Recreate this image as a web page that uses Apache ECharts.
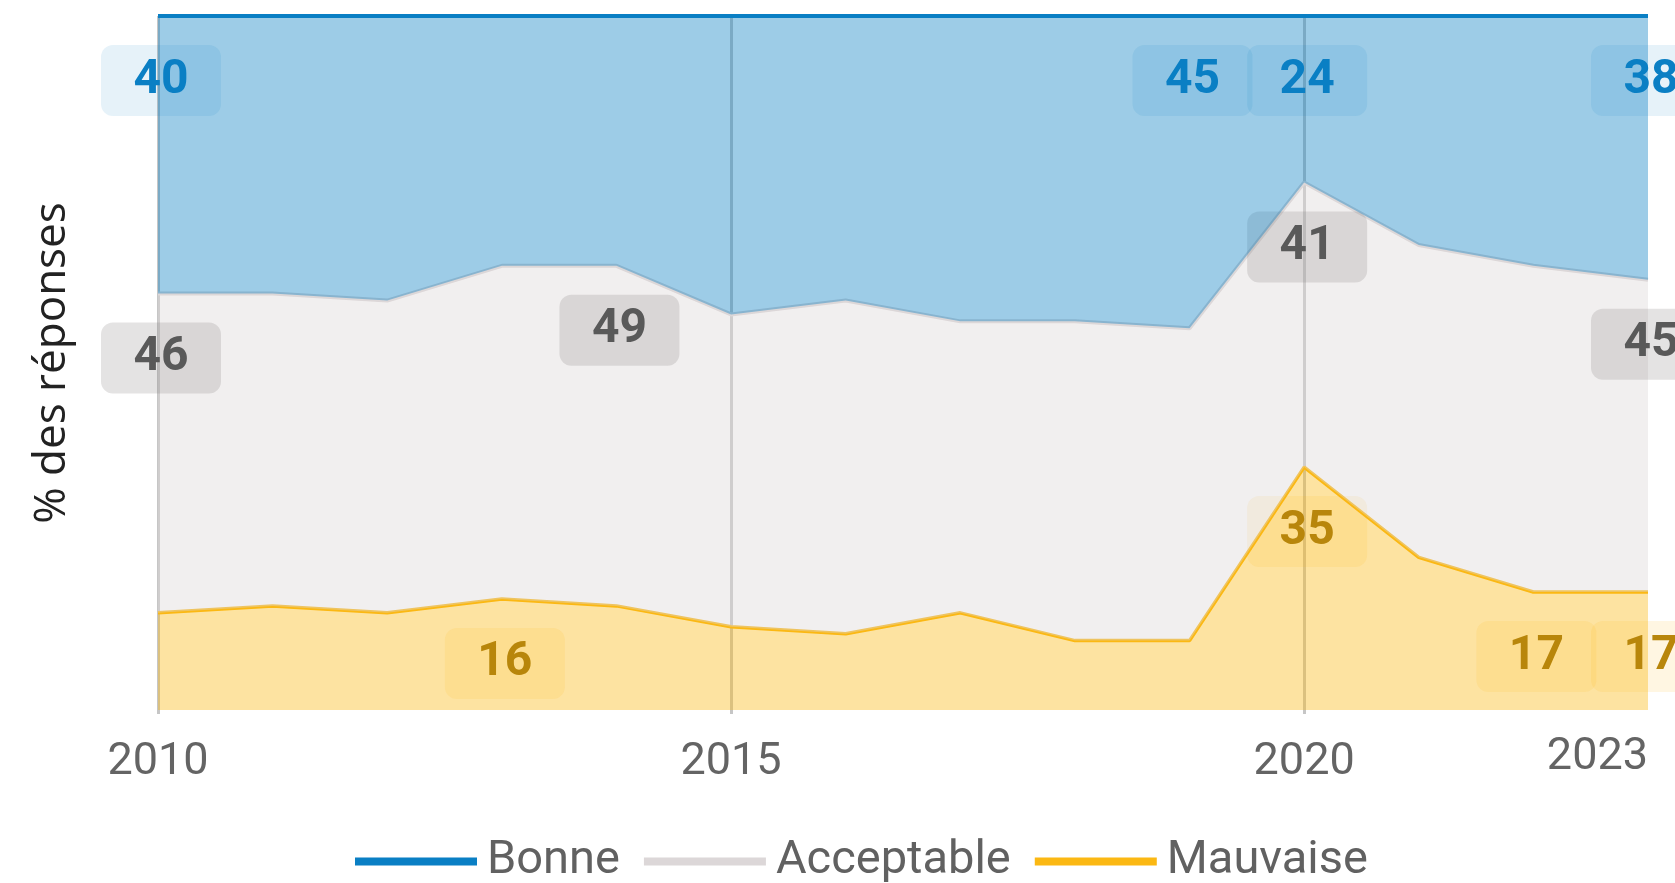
<!DOCTYPE html>
<html>
<head>
<meta charset="utf-8">
<script src="https://cdn.jsdelivr.net/npm/echarts@6/dist/echarts.min.js"></script>
<style>
  html, body { margin: 0; padding: 0; background: #fff; }
  #chart { width: 1675px; height: 883px; }
</style>
</head>
<body>
<div id="chart"></div>
<script>
const years = ['2010', '2011', '2012', '2013', '2014', '2015', '2016', '2017', '2018', '2019', '2020', '2021', '2022', '2023']
const bonne = [40, 40, 41, 36, 36, 43, 41, 44, 44, 45, 24, 33, 36, 38]
const acceptable = [46, 45, 45, 48, 49, 45, 48, 42, 46, 45, 41, 45, 47, 45]
const mauvaise = [14, 15, 14, 16, 15, 12, 11, 14, 10, 10, 35, 22, 17, 17]

// points that carry a value label
const bonneLabelled = [0, 9, 10, 13]
const acceptableLabelled = [0, 4, 10, 13]
const mauvaiseLabelled = [3, 10, 12, 13]

const tickIdx = [0, 5, 10, 13]
const gridIdx = [0, 5, 10]

const font = 'Roboto, "Noto Sans", sans-serif'

function labelled(values, idx) {
  return values.map((v, i) => idx.includes(i) ? { value: v, label: { show: true } } : v)
}

function makeSeries(name, values, idx, color, lineWidth, textColor, boxColor, z) {
  return {
    name: name,
    type: 'line',
    stack: 'total',
    z: z,
    symbol: 'circle',
    symbolSize: 0,
    showSymbol: true,
    color: color,
    lineStyle: { color: color, width: lineWidth },
    areaStyle: { color: color, opacity: 0.4 },
    label: {
      show: false,
      position: 'bottom',
      distance: 29,
      offset: [3, 0],
      fontFamily: font,
      fontWeight: 'bold',
      fontSize: 48,
      color: textColor,
      backgroundColor: boxColor,
      borderRadius: 12,
      width: 120,
      height: 71,
      lineHeight: 71,
      align: 'center',
      padding: 0
    },
    emphasis: { disabled: true },
    data: labelled(values, idx)
  }
}

const chart = echarts.init(document.getElementById('chart'))
chart.setOption({
  animation: false,
  grid: { left: 158, right: 27, top: 16, bottom: 173 },
  legend: {
    data: ['Bonne', 'Acceptable', 'Mauvaise'],
    left: 350,
    top: 833,
    icon: 'rect',
    itemWidth: 122,
    itemHeight: 8,
    itemGap: 24,
    textStyle: { fontFamily: font, fontSize: 47, color: '#616161', padding: [0, 0, 0, 5] }
  },
  xAxis: {
    type: 'category',
    boundaryGap: false,
    data: years.map((y, i) => i === years.length - 1
      ? { value: y, textStyle: { align: 'right', lineHeight: 46 } }
      : y),
    axisLine: { show: false },
    axisTick: {
      show: true,
      length: 4,
      interval: (i) => gridIdx.includes(i),
      lineStyle: { color: '#c6c6c6', width: 3 }
    },
    axisLabel: {
      interval: (i) => tickIdx.includes(i),
      fontFamily: font,
      fontSize: 45,
      color: '#646464',
      lineHeight: 56,
      margin: 25
    },
    splitLine: {
      show: true,
      interval: (i) => gridIdx.includes(i),
      lineStyle: { color: '#c6c6c6', width: 3 }
    }
  },
  yAxis: {
    type: 'value',
    min: 0,
    max: 100,
    axisLabel: { show: false },
    axisLine: { show: false },
    axisTick: { show: false },
    splitLine: { show: false },
    name: '% des réponses',
    nameLocation: 'middle',
    nameGap: 84,
    nameTextStyle: { fontFamily: '"Open Sans", sans-serif', fontSize: 44, color: '#222' }
  },
  series: [
    makeSeries('Mauvaise', mauvaise, mauvaiseLabelled, '#fbb813', 3.5, '#b8860b', 'rgba(251,185,20,0.12)', 2),
    makeSeries('Acceptable', acceptable, acceptableLabelled, '#dcd7d8', 4, '#595959', 'rgba(120,115,117,0.2)', 3),
    makeSeries('Bonne', bonne, bonneLabelled, '#0a7fc4', 4, '#0a7fc4', 'rgba(10,127,196,0.1)', 4)
  ]
})
</script>
</body>
</html>
